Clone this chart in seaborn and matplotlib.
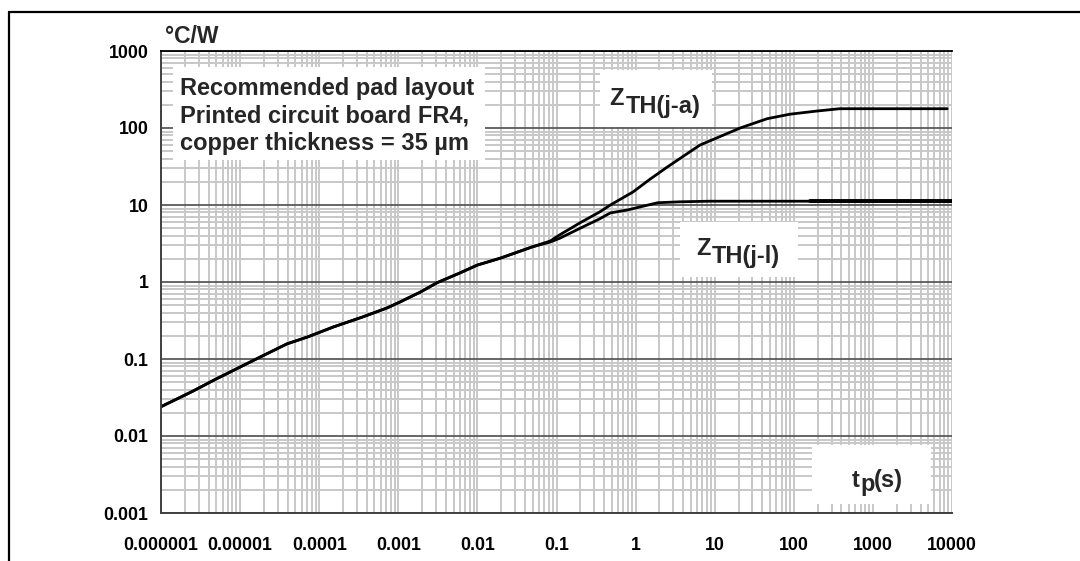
import numpy as np
import matplotlib
matplotlib.use("Agg")
import matplotlib.pyplot as plt
import seaborn as sns
from matplotlib.ticker import LogLocator, FixedLocator, FixedFormatter, NullFormatter
from matplotlib.patches import Rectangle
from matplotlib.lines import Line2D

# ---- data ----
t_ja = [1e-6, 2.5e-6, 4.8e-6, 1.6e-5, 3.9e-5, 7.1e-5, 1.5e-4, 3.5e-4, 7.2e-4, 1.05e-3,
        1.9e-3, 3.1e-3, 6.0e-3, 0.01, 0.0195, 0.05, 0.083, 0.11, 0.2, 0.35, 0.48, 0.93,
        1.5, 2.5, 6.5, 21, 46, 89, 195, 380, 8700]
z_ja = [0.024, 0.038, 0.054, 0.10, 0.157, 0.193, 0.26, 0.35, 0.46, 0.55,
        0.74, 0.98, 1.31, 1.66, 2.04, 2.87, 3.4, 4.1, 5.9, 8.1, 10.0, 14.8,
        21.4, 31, 60, 100, 132, 151, 166, 178, 178]
t_jl = [1e-6, 2.5e-6, 4.8e-6, 1.6e-5, 3.9e-5, 7.1e-5, 1.5e-4, 3.5e-4, 7.2e-4, 1.05e-3,
        1.9e-3, 3.1e-3, 6.0e-3, 0.01, 0.0195, 0.05, 0.083, 0.11, 0.2, 0.35, 0.48, 0.78,
        1.9, 3.6, 8.7, 160, 10000]
z_jl = [0.024, 0.038, 0.054, 0.10, 0.157, 0.193, 0.26, 0.35, 0.46, 0.55,
        0.74, 0.98, 1.31, 1.66, 2.04, 2.87, 3.3, 3.7, 5.0, 6.6, 7.9, 8.6,
        10.7, 11.0, 11.2, 11.2, 11.2]

x_ticks = [1e-6, 1e-5, 1e-4, 1e-3, 1e-2, 1e-1, 1, 10, 100, 1000, 10000]
x_tick_labels = ["0.000001", "0.00001", "0.0001", "0.001", "0.01", "0.1",
                 "1", "10", "100", "1000", "10000"]
y_ticks = [1e-3, 1e-2, 1e-1, 1, 10, 100, 1000]
y_tick_labels = ["0.001", "0.01", "0.1", "1", "10", "100", "1000"]

note_text = "Recommended pad layout\nPrinted circuit board FR4,\ncopper thickness = 35 µm"

# ---- figure ----
sns.set_theme(style="white")
plt.rcParams['font.family'] = ['Liberation Sans', 'DejaVu Sans']
plt.rcParams['font.weight'] = 'bold'

W, H = 1080, 561
fig = plt.figure(figsize=(W / 100, H / 100), dpi=100)
fig.patch.set_facecolor('white')

def fx(px):
    return px / W

def fy(py):
    return 1 - py / H

L, R, T, B = 161, 952, 51, 513
ax = fig.add_axes([fx(L), fy(B), fx(R - L), (B - T) / H])
ax.set_facecolor('white')
ax.set_xscale('log')
ax.set_yscale('log')
ax.set_xlim(1e-6, 1e4)
ax.set_ylim(1e-3, 1e3)
ax.set_axisbelow(True)

ax.xaxis.set_major_locator(FixedLocator(x_ticks))
ax.xaxis.set_major_formatter(FixedFormatter(x_tick_labels))
ax.yaxis.set_major_locator(FixedLocator(y_ticks))
ax.yaxis.set_major_formatter(FixedFormatter(y_tick_labels))
ax.xaxis.set_minor_locator(LogLocator(base=10, subs=np.arange(2, 10), numticks=100))
ax.yaxis.set_minor_locator(LogLocator(base=10, subs=np.arange(2, 10), numticks=100))
ax.xaxis.set_minor_formatter(NullFormatter())
ax.yaxis.set_minor_formatter(NullFormatter())

ax.grid(which='minor', axis='both', color='#c8c8c8', lw=1.4)
ax.grid(which='major', axis='x', color='#c8c8c8', lw=1.4)
ax.grid(which='major', axis='y', color='#5a5a5a', lw=1.3)

ax.tick_params(which='minor', length=0)
ax.tick_params(which='major', direction='out', length=5, width=1.2, color='#404040',
               labelsize=12.8, labelcolor='black')
ax.tick_params(axis='x', which='major', pad=12)
ax.tick_params(axis='y', which='major', pad=4)
for lab in ax.get_xticklabels() + ax.get_yticklabels():
    lab.set_fontweight('bold')

for s in ['left', 'bottom']:
    ax.spines[s].set_color('#404040')
    ax.spines[s].set_linewidth(1.4)
ax.spines['top'].set_color('black')
ax.spines['top'].set_linewidth(1.3)
ax.spines['right'].set_visible(False)

# curves
sns.lineplot(x=t_ja, y=z_ja, ax=ax, color='black', lw=2.0, estimator=None, sort=False)
sns.lineplot(x=t_jl, y=z_jl, ax=ax, color='black', lw=2.0, estimator=None, sort=False)
sns.lineplot(x=t_jl[-2:], y=z_jl[-2:], ax=ax, color='black', lw=2.8, estimator=None, sort=False)

# white boxes behind labels
def box(x0, y0, x1, y1):
    r = Rectangle((fx(x0), fy(y1)), fx(x1 - x0), (y1 - y0) / H, transform=fig.transFigure,
                  facecolor='white', edgecolor='none', zorder=1.5)
    ax.add_patch(r)

box(173, 67, 485, 160)
box(600, 70, 712, 127)
box(680, 222, 798, 277)
box(812, 445, 931, 504)

fs = 17
# baseline alignment of a multi-line text uses the last line's baseline
fig.text(fx(180), fy(150), note_text, fontsize=fs, fontweight='bold', ha='left',
         va='baseline', linespacing=1.26)

fig.text(fx(609), fy(105), "Z", fontsize=fs, fontweight='bold', ha='left', va='baseline')
fig.text(fx(626), fy(113), "TH(j-a)", fontsize=fs, fontweight='bold', ha='left', va='baseline')
fig.text(fx(696), fy(255), "Z", fontsize=fs, fontweight='bold', ha='left', va='baseline')
fig.text(fx(712), fy(263), "TH(j-l)", fontsize=fs, fontweight='bold', ha='left', va='baseline')

fig.text(fx(852), fy(487), "t", fontsize=fs, fontweight='bold', ha='left', va='baseline')
fig.text(fx(860), fy(491), "p", fontsize=fs, fontweight='bold', ha='left', va='baseline')
fig.text(fx(874), fy(487), "(s)", fontsize=fs, fontweight='bold', ha='left', va='baseline')

fig.text(fx(165), fy(43), "°C/W", fontsize=16.5, fontweight='bold', ha='left', va='baseline')

# outer frame lines
fig.add_artist(Line2D([fx(9), fx(9)], [fy(12), fy(561)], color='black', lw=1.6,
                      transform=fig.transFigure))
fig.add_artist(Line2D([fx(9), fx(1080)], [fy(12), fy(12)], color='black', lw=1.6,
                      transform=fig.transFigure))

fig.savefig("out.png", dpi=100, facecolor='white')
